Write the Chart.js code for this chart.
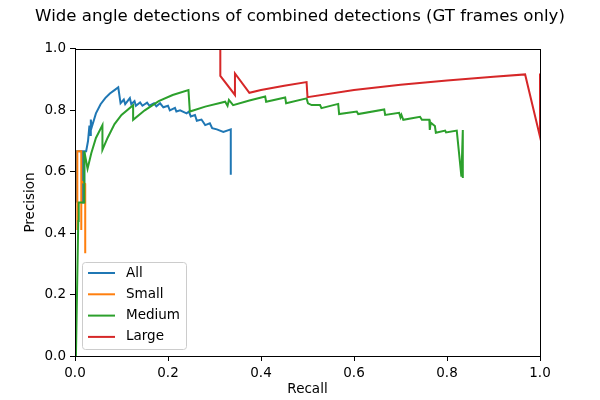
<!DOCTYPE html>
<html>
<head>
  <meta charset="utf-8" />
  <title>Wide angle detections</title>
  <style>
    body { margin: 0; background: #fff; }
    #chart { display: block; }
  </style>
</head>
<body>
<canvas id="chart" width="600" height="400"></canvas>

<script src="https://cdn.jsdelivr.net/npm/chart.js"></script>
<script>
  // values
  var allRecall = [0.004,0.004,0.016,0.016,0.02,0.02,0.024,0.028,0.031,0.033,0.034,0.036,0.045,0.055,0.065,0.075,0.085,0.093,0.098,0.105,0.108,0.118,0.121,0.128,0.131,0.14,0.145,0.155,0.16,0.17,0.175,0.183,0.19,0.2,0.204,0.215,0.218,0.226,0.24,0.245,0.249,0.258,0.262,0.272,0.28,0.29,0.295,0.305,0.319,0.335,0.335];
  var allPrecision = [0.5,0.667,0.667,0.5,0.5,0.667,0.667,0.7,0.75,0.72,0.77,0.745,0.79,0.82,0.84,0.855,0.866,0.875,0.823,0.835,0.82,0.84,0.82,0.83,0.815,0.826,0.815,0.825,0.815,0.823,0.813,0.823,0.81,0.815,0.8,0.808,0.796,0.8,0.79,0.796,0.78,0.785,0.766,0.77,0.752,0.758,0.742,0.738,0.73,0.738,0.59];

  var smallRecall = [0.005,0.005,0.0135,0.0135,0.0135,0.022,0.022];
  var smallPrecision = [0.41,0.667,0.667,0.41,0.57,0.56,0.335];

  var mediumRecall = [0.002,0.007,0.008,0.02,0.02,0.027,0.035,0.045,0.059,0.059,0.07,0.085,0.1,0.125,0.125,0.15,0.18,0.21,0.244,0.247,0.28,0.323,0.328,0.331,0.34,0.375,0.409,0.411,0.452,0.454,0.498,0.501,0.509,0.527,0.53,0.566,0.568,0.606,0.609,0.665,0.667,0.697,0.7,0.702,0.706,0.742,0.746,0.762,0.763,0.765,0.774,0.776,0.796,0.798,0.821,0.831,0.834,0.834];
  var mediumPrecision = [0,0.44,0.5,0.5,0.667,0.61,0.66,0.71,0.752,0.671,0.71,0.755,0.785,0.817,0.769,0.8,0.83,0.85,0.866,0.796,0.812,0.828,0.815,0.834,0.817,0.832,0.845,0.828,0.842,0.823,0.839,0.823,0.817,0.817,0.807,0.821,0.788,0.796,0.788,0.803,0.785,0.792,0.777,0.785,0.769,0.779,0.769,0.769,0.736,0.76,0.749,0.727,0.734,0.728,0.734,0.584,0.736,0.58];

  var largeRecall = [0.3125,0.3125,0.344,0.344,0.375,0.4,0.45,0.498,0.5,0.6,0.7,0.8,0.9,0.968,1.0,1.0];
  var largePrecision = [1.0,0.912,0.85,0.92,0.857,0.866,0.88,0.892,0.843,0.866,0.883,0.897,0.909,0.917,0.714,0.92];

  var seriesNames = ['All', 'Small', 'Medium', 'Large'];
  var seriesColors = ['#1f77b4', '#ff7f0e', '#2ca02c', '#d62728'];
  var tickValues = [0, 0.2, 0.4, 0.6, 0.8, 1.0];

  function toPoints(xs, ys) {
    return xs.map(function(x, i) { return { x: x, y: ys[i] }; });
  }

  var seriesData = [
    toPoints(allRecall, allPrecision),
    toPoints(smallRecall, smallPrecision),
    toPoints(mediumRecall, mediumPrecision),
    toPoints(largeRecall, largePrecision)
  ];

  var FONT = 'DejaVu Sans';

  // matplotlib-like box around the plot area
  var framePlugin = {
    id: 'frame',
    afterDatasetsDraw: function(chart) {
      var a = chart.chartArea, c = chart.ctx;
      c.save();
      c.strokeStyle = '#000';
      c.lineWidth = 1;
      c.strokeRect(Math.round(a.left) + 0.5, Math.round(a.top) + 0.5,
                   Math.round(a.right - a.left), Math.round(a.bottom - a.top));
      c.restore();
    }
  };

  // legend in the lower left corner, inside the axes
  var legendPlugin = {
    id: 'innerLegend',
    afterDraw: function(chart) {
      var a = chart.chartArea, c = chart.ctx;
      var x0 = a.left + 7, w = 104, h = 87;
      var y0 = a.bottom - 7 - h;
      c.save();
      c.fillStyle = 'rgba(255,255,255,0.8)';
      c.strokeStyle = '#cccccc';
      c.lineWidth = 1;
      c.beginPath();
      c.roundRect(x0 + 0.5, y0 + 0.5, w, h, 3);
      c.fill();
      c.stroke();
      c.font = '13.5px "' + FONT + '"';
      c.textBaseline = 'middle';
      seriesNames.forEach(function(name, i) {
        var y = y0 + 11 + i * 21.3;
        c.strokeStyle = seriesColors[i];
        c.lineWidth = 2;
        c.beginPath();
        c.moveTo(x0 + 6, y);
        c.lineTo(x0 + 33, y);
        c.stroke();
        c.fillStyle = '#000';
        c.fillText(name, x0 + 44, y);
      });
      c.restore();
    }
  };

  var datasets = seriesNames.map(function(name, i) {
    return {
      label: name,
      data: seriesData[i],
      borderColor: seriesColors[i],
      backgroundColor: seriesColors[i],
      borderWidth: 2,
      pointRadius: 0,
      tension: 0,
      fill: false,
      order: seriesNames.length - i
    };
  });

  function axisOptions(title, fitKey, fitSize, titlePad) {
    return {
      type: 'linear',
      min: 0,
      max: 1,
      afterBuildTicks: function(s) {
        s.ticks = tickValues.map(function(v) { return { value: v }; });
      },
      afterFit: function(s) { s[fitKey] = fitSize; },
      border: { display: true, color: '#000', width: 1 },
      grid: { drawOnChartArea: false, drawTicks: true, tickLength: 5, color: '#000' },
      ticks: {
        color: '#000',
        padding: 4,
        font: { family: FONT, size: 13.5 },
        callback: function(v) { return v.toFixed(1); }
      },
      title: {
        display: true,
        text: title,
        color: '#000',
        padding: titlePad,
        font: { family: FONT, size: 13.5 }
      }
    };
  }

  var ctx = document.getElementById('chart').getContext('2d');
  var chart = new Chart(ctx, {
    type: 'line',
    data: { datasets: datasets },
    options: {
      responsive: false,
      animation: false,
      layout: { padding: 0 },
      plugins: {
        legend: { display: false },
        tooltip: { enabled: false },
        title: {
          display: true,
          text: 'Wide angle detections of combined detections (GT frames only)',
          color: '#000',
          font: { family: FONT, size: 16.6, weight: 'normal' },
          padding: { top: 7, bottom: 22 }
        }
      },
      scales: {
        x: axisOptions('Recall', 'height', 44, { top: 0, bottom: 2 }),
        y: axisOptions('Precision', 'width', 75, { top: 22, bottom: 0 }),
        // empty right-hand margin, as in the reference
        yRight: {
          position: 'right',
          display: true,
          afterFit: function(s) { s.width = 60; },
          grid: { display: false },
          border: { display: false },
          ticks: { display: false }
        }
      }
    },
    plugins: [framePlugin, legendPlugin]
  });
</script>
</body>
</html>
